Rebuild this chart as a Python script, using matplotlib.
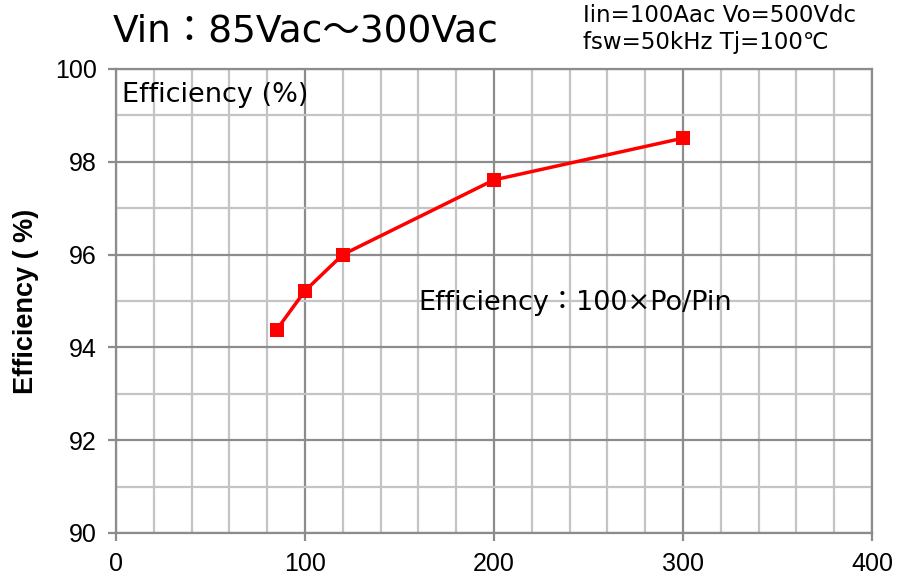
import matplotlib
matplotlib.use("Agg")
import matplotlib.pyplot as plt
from matplotlib.ticker import MultipleLocator

vin = [85, 100, 120, 200, 300]
efficiency = [94.38, 95.22, 96.0, 97.61, 98.51]
x_ticks = [0, 100, 200, 300, 400]
y_ticks = [90, 92, 94, 96, 98, 100]

fig = plt.figure(figsize=(8.98, 5.8), dpi=100)
ax = fig.add_axes([116/898, 47/580, (872-116)/898, (533-69)/580])

ax.set_xlim(0, 400)
ax.set_ylim(90, 100)
ax.set_xticks(x_ticks)
ax.set_yticks(y_ticks)
ax.xaxis.set_minor_locator(MultipleLocator(20))
ax.yaxis.set_minor_locator(MultipleLocator(1))

ax.grid(which='minor', color='#c4c4c4', linewidth=1.6)
ax.grid(which='major', color='#8c8c8c', linewidth=1.6)
ax.set_axisbelow(True)
for s in ax.spines.values():
    s.set_color('#8c8c8c')
    s.set_linewidth(1.6)

ax.tick_params(which='major', length=6, width=1.6, color='#8c8c8c', direction='out', pad=8)
ax.tick_params(which='minor', length=0)
tick_font = dict(family='Liberation Sans', size=18)
ax.set_xticklabels([str(v) for v in x_ticks], **tick_font)
ax.set_yticklabels([str(v) for v in y_ticks], **tick_font)

ax.plot(vin, efficiency, color='#ff0000', linewidth=2.5, marker='s', markersize=9.5,
        markeredgewidth=0, zorder=3, clip_on=False)

ax.set_ylabel('Efficiency ( %)', family='Liberation Sans', fontweight='bold', fontsize=19.5, labelpad=11)

fam = ['DejaVu Sans', 'Noto Sans CJK JP']
ax.text(0.008, 0.972, 'Efficiency (%)', transform=ax.transAxes, ha='left', va='top',
        fontsize=19.5, family=fam)
ax.text(160, 94.95, 'Efficiency：100×Po/Pin', ha='left', va='center', fontsize=19.5, family=fam)

fig.text(113/898, 1 - 31/580, 'Vin：85Vac～300Vac', ha='left', va='center', fontsize=27, family=fam)
fig.text(583/898, 1 - 16/580, 'Iin=100Aac Vo=500Vdc', ha='left', va='center', fontsize=16.5, family=fam)
fig.text(583/898, 1 - 43/580, 'fsw=50kHz Tj=100℃', ha='left', va='center', fontsize=16.5, family=fam)

fig.savefig('out.png', dpi=100)
